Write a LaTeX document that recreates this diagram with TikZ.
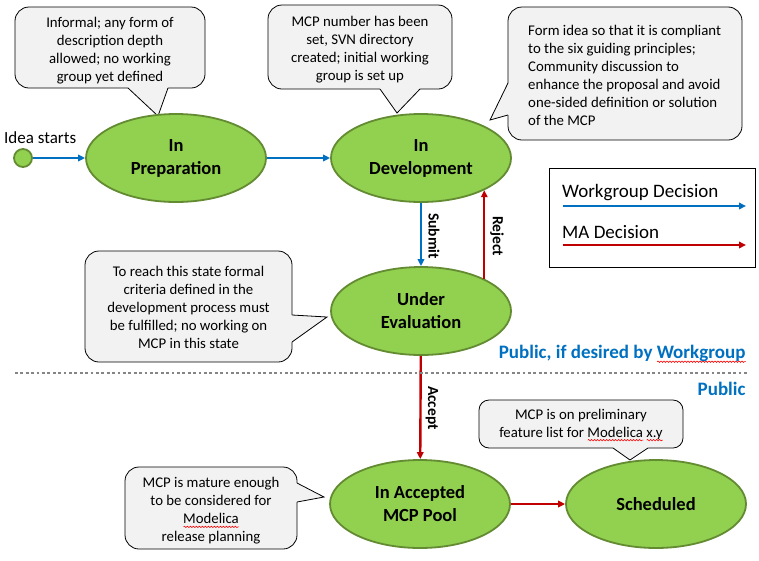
\documentclass[tikz,border=0pt]{standalone}
\usepackage{fontspec}
\setmainfont{Carlito}
\usetikzlibrary{shapes.geometric,arrows.meta,calc,decorations.pathmorphing}
\definecolor{stgreen}{HTML}{92D050}
\definecolor{stborder}{HTML}{638B32}
\definecolor{wgblue}{HTML}{0070C0}
\definecolor{mared}{HTML}{C00000}
\definecolor{cfill}{HTML}{F2F2F2}
\definecolor{dotgray}{HTML}{858585}
\newbox\wavebox
\newcommand\redwave[1]{\setbox\wavebox\hbox{#1}\leavevmode\rlap{\tikz[baseline=0pt]\draw[sharp corners,red,line width=0.6pt,decorate,decoration={snake,amplitude=0.7pt,segment length=3pt}] (0pt,-3pt) -- (\wd\wavebox,-3pt);}\box\wavebox}
\tikzset{
  state/.style={ellipse, draw=stborder, line width=1.8pt, fill=stgreen,
    minimum width=180pt, minimum height=88pt, inner sep=0pt, align=center,
    font=\bfseries\fontsize{18.5}{23}\selectfont},
  wg/.style={draw=wgblue, line width=2.4pt, -{Triangle[length=7pt,width=6.5pt]}},
  ma/.style={draw=mared, line width=2.4pt, -{Triangle[length=7pt,width=6.5pt]}},
  cbox/.style={draw=black, line width=0.8pt, fill=cfill, rounded corners=14pt, inner sep=0pt},
  ctext/.style={inner sep=0pt, align=center, font=\fontsize{14.8}{18}\selectfont},
  ctail/.style={draw=black, line width=0.8pt, line join=miter},
  arrlbl/.style={rotate=-90, font=\bfseries\fontsize{15.5}{17}\selectfont},
  pubtext/.style={anchor=east, text=wgblue, font=\bfseries\fontsize{19}{22}\selectfont},
  legtext/.style={anchor=west, inner sep=0pt, font=\fontsize{19}{22}\selectfont},
}
\begin{document}
\begin{tikzpicture}[x=1pt, y=-1pt]
\useasboundingbox (0,0) rectangle (759,560);

% ---------- callouts ----------
% 1
\node[cbox, minimum width=190pt, minimum height=81pt] (c1) at (110,47.5) {};
\fill[cfill] (128,86.5) -- (128,88) -- (158,116) -- (168,88) -- (168,86.5) -- cycle;
\draw[ctail] (128,88) -- (158,116) -- (168,88);
\node[ctext] (t1) at (110,50.5) {Informal; any form of\\description depth\\allowed; no working\\group yet defined};
% 2
\node[cbox, minimum width=184pt, minimum height=84pt] (c2) at (360,47) {};
\fill[cfill] (380,87.5) -- (380,89) -- (397,113) -- (420,89) -- (420,87.5) -- cycle;
\draw[ctail] (380,89) -- (397,113) -- (420,89);
\node[ctext] (t2) at (360,49.5) {MCP number has been\\set, SVN directory\\created; initial working\\group is set up};
% 3
\node[cbox, minimum width=234pt, minimum height=133pt] (c3) at (625,73.5) {};
\fill[cfill] (509.5,83) -- (508,83) -- (490,120) -- (508,115) -- (509.5,115) -- cycle;
\draw[ctail] (508,83) -- (490,120) -- (508,115);
\node[ctext, align=left, anchor=west] (t3) at (528,75.5) {Form idea so that it is compliant\\to the six guiding principles;\\Community discussion to\\enhance the proposal and avoid\\one-sided definition or solution\\of the MCP};
% 4
\node[cbox, minimum width=207pt, minimum height=111pt] (c4) at (188.5,306.5) {};
\fill[cfill] (290.5,315) -- (292,315) -- (327,317) -- (292,342) -- (290.5,342) -- cycle;
\draw[ctail] (292,315) -- (327,317) -- (292,342);
\node[ctext] (t4) at (188.5,307.5) {To reach this state formal\\criteria defined in the\\development process must\\be fulfilled; no working on\\MCP in this state};
% 5
\node[cbox, minimum width=172pt, minimum height=82pt] (c5) at (211,508) {};
\fill[cfill] (295.5,483) -- (297,483) -- (324,497) -- (297,502) -- (295.5,502) -- cycle;
\draw[ctail] (297,483) -- (324,497) -- (297,502);
\node[ctext] (t5) at (211,511) {MCP is mature enough\\to be considered for\\\redwave{Modelica}\\release planning};
% 6
\node[cbox, rounded corners=10pt, minimum width=204pt, minimum height=48pt] (c6) at (581,424) {};
\fill[cfill] (613,446.5) -- (613,448) -- (630,460) -- (648,448) -- (648,446.5) -- cycle;
\draw[ctail] (613,448) -- (630,460) -- (648,448);
\node[ctext] (t6) at (581,425) {MCP is on preliminary\\feature list for \redwave{Modelica} \redwave{x.y}};

% ---------- states ----------
\node[circle, draw=stborder, fill=stgreen, line width=1.8pt, minimum size=18pt, inner sep=0pt] (idea) at (23,158) {};
\node[anchor=west, font=\fontsize{17}{20}\selectfont, inner sep=0pt] (idealbl) at (4,138) {Idea starts};
\node[state] (prep) at (176,158) {In\\Preparation};
\node[state] (dev) at (421,158) {In\\Development};
\node[state] (eval) at (421,311) {Under\\Evaluation};
\node[state] (pool) at (420,504) {In Accepted\\MCP Pool};
\node[state] (sched) at (656,504) {Scheduled};

% ---------- transitions ----------
\draw[wg] (idea) -- (prep);
\draw[wg] (prep) -- (dev);
\draw[wg] (dev) -- (eval);
\draw[ma] (eval.27) -- (dev.-27);
\draw[ma] (eval) -- (pool);
\draw[ma] (pool) -- (sched);
\node[arrlbl] (lsubmit) at (434,236) {Submit};
\node[arrlbl] (lreject) at (497,236) {Reject};
\node[arrlbl] (laccept) at (432,408) {Accept};

% ---------- separator ----------
\coordinate (sepl) at (15,373);
\coordinate (sepr) at (748,373);
\draw[dotgray, line width=2.8pt, dash pattern=on 2.8pt off 2.6pt] (sepl) -- (sepr);
\node[pubtext] (pub1) at (749,354) {Public, if desired by \redwave{Workgroup}};
\node[pubtext] (pub2) at (749,389) {Public};

% ---------- legend ----------
\node[draw=black, line width=0.8pt, minimum width=206pt, minimum height=99pt, anchor=north west] (legend) at (549,168) {};
\node[legtext] (lwg) at (562,193) {Workgroup Decision};
\node[legtext] (lma) at (562,232) {MA Decision};
\coordinate (lw1) at (563,206);
\coordinate (lw2) at (746,206);
\coordinate (lm1) at (563,245);
\coordinate (lm2) at (746,245);
\draw[wg] (lw1) -- (lw2);
\draw[ma] (lm1) -- (lm2);
\end{tikzpicture}
\end{document}
